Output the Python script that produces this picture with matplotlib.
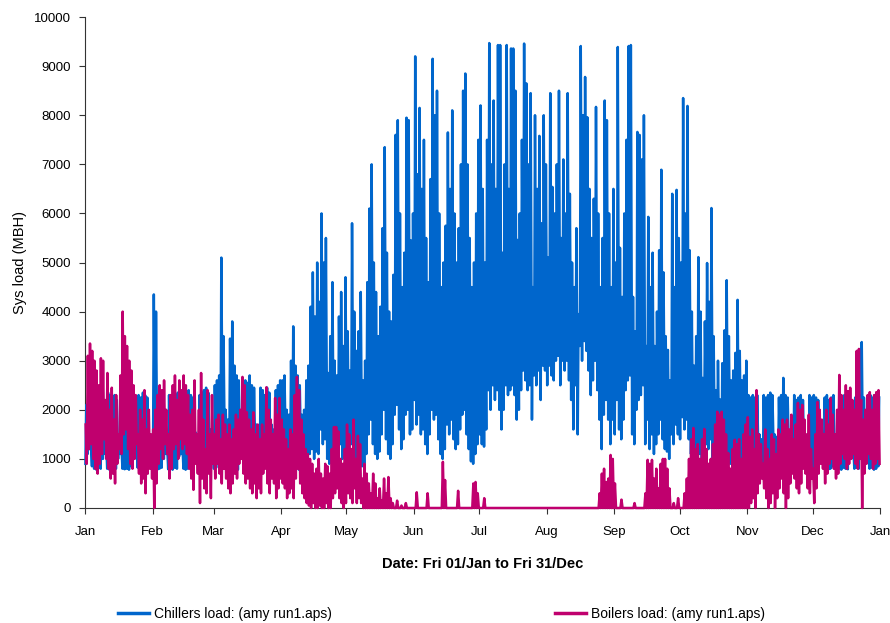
import numpy as np
import matplotlib.pyplot as plt
from matplotlib.lines import Line2D

plt.rcParams['font.family'] = ['Liberation Sans', 'DejaVu Sans']

month_labels = ['Jan', 'Feb', 'Mar', 'Apr', 'May', 'Jun', 'Jul', 'Aug',
                'Sep', 'Oct', 'Nov', 'Dec', 'Jan']
month_days = [31, 28, 31, 30, 31, 30, 31, 31, 30, 31, 30, 31]

# Daily peak / overnight low of the chillers load (MBH), read month by month
chiller_peak = (
    [2100, 1500, 1400, 2300, 2250, 2300, 2200, 2300, 1500, 1450, 2350, 2300, 2250, 2300, 2200, 1500,
     1400, 2300, 2350, 2250, 2300, 2200, 1600, 1500, 2300, 2250, 2350, 2300, 2250, 1500, 1400]
    + [4350, 4000, 2300, 2250, 2350, 1500, 1400, 2300, 2250, 2200, 2300, 2350, 1500, 1450, 2250,
       2300, 2400, 2300, 2250, 1550, 1500, 2300, 2350, 2400, 2450, 2350, 1600, 1500]
    + [2500, 2600, 2700, 5100, 3500, 2000, 1800, 3450, 3800, 2900, 2700, 2600, 1800, 1700, 2600,
       2550, 2700, 2500, 2450, 1700, 1600, 2450, 2400, 2300, 2450, 2350, 1700, 1600, 2400, 2500, 2600]
    + [2600, 2700, 2000, 1900, 3000, 3700, 2900, 2700, 2500, 1900, 2000, 2600, 2900, 4100, 4800,
       3900, 5000, 4200, 6000, 5000, 5500, 2750, 3500, 4600, 3000, 2700, 3900, 4400, 3300, 4700]
    + [3600, 2800, 5800, 4000, 3200, 3600, 4400, 2600, 3000, 4600, 6100, 7000, 5000, 4400, 3500,
       4100, 5700, 7350, 5200, 4000, 3800, 4750, 7600, 7900, 6000, 4500, 5200, 7950, 7900, 5450, 6000]
    + [9200, 6800, 8150, 6500, 7500, 5500, 4600, 6700, 9150, 8000, 8500, 6000, 4500, 5000, 5750,
       7650, 6500, 8100, 6000, 5000, 5700, 7000, 8500, 8850, 7000, 5500, 4500, 5000, 6000, 7500]
    + [8200, 6500, 5000, 7500, 9470, 7000, 8300, 6500, 9430, 9430, 5200, 7000, 9430, 6500, 9360,
       9360, 8500, 5460, 6000, 7500, 9460, 8650, 7000, 8450, 4500, 8000, 6500, 7580, 5800, 8000, 7000]
    + [5100, 8450, 6540, 6000, 7000, 8500, 5500, 7100, 6000, 8450, 6400, 5000, 4500, 5700, 3950,
       9410, 8000, 8780, 7960, 6500, 5500, 6300, 8170, 6000, 4500, 5500, 8300, 7900, 6000, 4500, 6500]
    + [5000, 9390, 5300, 4300, 6000, 7500, 9410, 9430, 4300, 3600, 7660, 7600, 7100, 8000, 3300,
       5930, 4500, 5200, 3300, 4000, 5250, 6890, 4800, 3500, 3220, 2600, 6400, 4500, 6480, 5500]
    + [5000, 8350, 6000, 8190, 5250, 4000, 2900, 3500, 5110, 4000, 2650, 3800, 4990, 4200, 6110,
       3500, 2400, 3000, 2210, 2950, 3620, 4640, 3500, 2600, 2800, 3160, 4240, 3200, 2600, 2700, 3000]
    + [2300, 2250, 2300, 2250, 2300, 1500, 1400, 2300, 2250, 2300, 2350, 2300, 1500, 1450, 2250,
       2300, 2650, 2300, 2250, 1500, 1400, 2300, 2200, 2250, 2300, 2200, 1500, 1450, 2300, 2250]
    + [2300, 2250, 2200, 1500, 1400, 2250, 2300, 2200, 2250, 2300, 1500, 1450, 2200, 2250, 2300,
       2250, 2200, 1500, 1400, 2250, 2300, 2300, 3380, 2250, 1500, 1450, 2300, 2250, 2300, 2200, 2250]
)
chiller_low = (
    [900, 1100, 1200, 850, 800, 780, 820, 800, 1000, 1100, 800, 780, 820, 850, 800, 1000,
     1100, 800, 790, 800, 780, 850, 1050, 1100, 820, 800, 780, 800, 850, 1000, 1100]
    + [800, 850, 780, 800, 820, 1000, 1100, 790, 800, 780, 820, 800, 1050, 1100, 800,
       780, 800, 820, 790, 1000, 1100, 800, 780, 800, 820, 800, 1000, 1100]
    + [800, 820, 900, 1000, 1100, 1000, 1050, 850, 820, 800, 800, 780, 1000, 1100, 820,
       800, 780, 800, 820, 1050, 1100, 800, 790, 800, 820, 780, 1000, 1100, 800, 800, 850]
    + [820, 800, 1050, 1000, 850, 900, 800, 820, 780, 1000, 1050, 850, 900, 1100, 1200,
       1000, 1150, 1100, 1600, 1300, 1400, 1000, 900, 1200, 1000, 850, 1100, 1300, 1000, 1200]
    + [1000, 950, 1300, 1100, 900, 1000, 1200, 850, 900, 1100, 1500, 1800, 1300, 1100, 1000,
       1150, 1500, 2000, 1400, 1100, 1000, 1300, 1900, 2100, 1600, 1200, 1400, 1900, 2000, 1500, 1600]
    + [2200, 1700, 1900, 1500, 1600, 1300, 1100, 1500, 2000, 1800, 1900, 1400, 1100, 1000, 1200,
       1700, 1500, 1800, 1400, 1200, 1300, 1600, 1900, 2000, 1500, 1200, 950, 900, 1100, 1300]
    + [1500, 1300, 1250, 1600, 2400, 2000, 2500, 2200, 2400, 2000, 1600, 2000, 2500, 2300, 2400,
       2500, 2300, 1800, 2000, 2400, 2800, 2600, 2400, 2500, 1800, 2700, 2500, 2800, 2200, 2900, 2800]
    + [2500, 2900, 2700, 2600, 3000, 3100, 2500, 3000, 2800, 3000, 2600, 2200, 1600, 2500, 1500,
       3300, 3000, 3400, 3200, 2800, 2300, 2600, 3000, 2400, 1800, 1200, 1900, 2200, 1800, 1300, 1800]
    + [1500, 2200, 1600, 1400, 1800, 2400, 2600, 2700, 1500, 1300, 2000, 2200, 2300, 2500, 1300,
       1800, 1200, 1500, 1100, 1300, 1500, 1800, 1400, 1200, 1150, 1000, 1500, 1300, 1700, 1500]
    + [1400, 1850, 1600, 1800, 1400, 1100, 1000, 1100, 1300, 1100, 900, 1100, 1300, 1200, 1400,
       1000, 900, 950, 1000, 950, 1100, 1300, 1000, 900, 950, 1000, 1100, 1000, 900, 900, 950]
    + [800, 780, 820, 800, 790, 1000, 1100, 800, 780, 820, 800, 850, 1050, 1100, 800,
       780, 900, 820, 800, 1000, 1100, 800, 790, 800, 820, 800, 1050, 1100, 800, 780]
    + [800, 820, 780, 1000, 1100, 800, 820, 780, 800, 850, 1000, 1100, 800, 780, 820,
       800, 790, 1050, 1100, 800, 820, 800, 1200, 800, 1000, 1100, 800, 820, 780, 800, 850]
)

# Daily peak / low of the boilers load (MBH)
boiler_peak = (
    [1700, 3100, 3350, 3200, 3000, 2800, 2500, 3050, 3000, 2200, 2750, 2000, 2450, 1800, 2300, 1500,
     2700, 4000, 3500, 3300, 3000, 2800, 2500, 2300, 1500, 2000, 1800, 2400, 1600, 2000, 1500]
    + [1600, 2000, 2300, 2500, 2400, 2600, 2000, 1500, 2300, 2500, 2700, 2200, 2600, 2400, 2700,
       2500, 2300, 1900, 2000, 2600, 1500, 2000, 2750, 1800, 1200, 2400, 1500, 2300]
    + [1500, 1800, 1900, 1400, 1900, 1700, 1500, 1700, 1400, 1600, 1900, 1800, 2000, 2670, 2500,
       1950, 1800, 1600, 1950, 1500, 1700, 1400, 1700, 1500, 2460, 2000, 1800, 1500, 2240, 1900, 2240]
    + [1800, 1600, 1400, 1200, 1600, 1500, 2300, 2670, 2400, 1800, 1500, 1200, 1100, 1000, 900,
       700, 800, 1000, 700, 600, 900, 850, 700, 1200, 1650, 1650, 1560, 1000, 900, 1200]
    + [1700, 1500, 1200, 1800, 1000, 1470, 1300, 600, 900, 700, 500, 300, 700, 500, 200,
       400, 150, 600, 300, 630, 200, 100, 0, 150, 0, 50, 0, 100, 0, 0, 0]
    + [0, 320, 0, 0, 0, 0, 300, 0, 0, 0, 0, 0, 0, 940, 570,
       0, 0, 0, 0, 0, 350, 0, 0, 0, 0, 0, 0, 500, 530, 300]
    + [0, 0, 200, 0, 0, 0, 0, 0, 0, 0, 0, 0, 0, 0, 0,
       0, 0, 0, 0, 0, 0, 0, 0, 0, 0, 0, 0, 0, 0, 0, 0]
    + [0, 0, 0, 0, 0, 0, 0, 0, 0, 0, 0, 0, 0, 0, 0,
       0, 0, 0, 0, 0, 0, 0, 0, 0, 300, 700, 800, 530, 600, 1080, 1000]
    + [500, 0, 0, 170, 0, 0, 0, 0, 0, 100, 0, 0, 0, 0, 300,
       980, 900, 980, 600, 800, 400, 900, 1000, 1000, 800, 400, 0, 100, 0, 200]
    + [0, 0, 300, 600, 1000, 1400, 1630, 1200, 1300, 1000, 1400, 1610, 1200, 900, 1000,
       1300, 1700, 1960, 1900, 1960, 1800, 1500, 1120, 800, 1200, 1390, 1300, 1400, 1000, 1500, 1700]
    + [1850, 1450, 1600, 1200, 2400, 1500, 1300, 900, 1600, 1200, 1000, 1500, 1400, 1100, 1600,
       1500, 1800, 1700, 1800, 1600, 1900, 1400, 1700, 2140, 2000, 2100, 1800, 1500, 1900, 1200]
    + [800, 1500, 2160, 2000, 1800, 1500, 2000, 1700, 2240, 1900, 1500, 2000, 2710, 2300, 2000,
       2500, 2380, 2450, 2200, 2000, 3200, 3240, 2200, 1800, 2000, 2300, 2360, 2000, 2300, 2360, 2400]
)
boiler_low = (
    [900, 1200, 1300, 1000, 800, 700, 900, 1100, 1400, 1000, 800, 600, 700, 500, 900, 1200,
     1100, 1500, 1600, 1200, 900, 800, 1000, 1300, 700, 500, 600, 300, 700, 800, 600]
    + [0, 500, 900, 1200, 1000, 1300, 1100, 600, 800, 1200, 1300, 1000, 1400, 1200, 1300,
       1100, 800, 600, 370, 900, 700, 100, 600, 400, 300, 700, 200, 900]
    + [600, 900, 700, 500, 800, 600, 400, 300, 500, 700, 600, 900, 1000, 700, 500,
       600, 400, 300, 500, 200, 400, 300, 700, 800, 500, 300, 600, 500, 200, 400, 600]
    + [500, 400, 200, 300, 400, 200, 600, 800, 500, 300, 200, 100, 50, 0, 100,
       0, 0, 50, 0, 0, 100, 0, 0, 200, 300, 400, 200, 100, 0, 100]
    + [300, 200, 100, 400, 100, 200, 100, 0, 0, 0, 0, 0, 0, 0, 0,
       0, 0, 0, 0, 0, 0, 0, 0, 0, 0, 0, 0, 0, 0, 0, 0]
    + [0] * 30 + [0] * 31 + [0] * 31 + [0] * 30 + [0] * 31
    + [0, 100, 200, 0, 300, 500, 600, 400, 200, 0, 100, 300, 0, 200, 400,
       600, 300, 0, 200, 500, 700, 600, 400, 300, 500, 800, 700, 400, 300, 600]
    + [100, 400, 700, 900, 800, 500, 700, 900, 1000, 800, 600, 700, 900, 1100, 1000,
       800, 900, 1000, 1100, 900, 800, 1000, 0, 700, 900, 1100, 1000, 800, 900, 1000, 900]
)

n_days = sum(month_days)
for s in (chiller_peak, chiller_low, boiler_peak, boiler_low):
    assert len(s) == n_days, len(s)

day = np.arange(n_days)
month_start = np.concatenate([[0], np.cumsum(month_days)])

# chillers: night low then afternoon peak; boilers: morning peak then low
t_ch = np.column_stack([day + 0.2, day + 0.6]).ravel()
v_ch = np.column_stack([chiller_low, chiller_peak]).ravel()
t_bo = np.column_stack([day + 0.3, day + 0.8]).ravel()
v_bo = np.column_stack([boiler_peak, boiler_low]).ravel()

blue = '#0066CC'
magenta = '#C0006E'

fig = plt.figure(figsize=(8.9, 6.23), dpi=100)
ax = fig.add_axes([0.0955, 0.1846, 0.8933, 0.788])

ax.plot(t_ch, v_ch, color=blue, lw=1.8, clip_on=False, zorder=3)
ax.plot(t_bo, v_bo, color=magenta, lw=1.8, clip_on=False, zorder=3)

ax.set_xlim(0, n_days)
ax.set_ylim(0, 10000)
ax.set_xticks(month_start)
ax.set_xticklabels(month_labels)
ax.set_yticks(np.arange(0, 10001, 1000))

for side in ('top', 'right'):
    ax.spines[side].set_visible(False)
for side in ('left', 'bottom'):
    ax.spines[side].set_color('#333333')
ax.tick_params(axis='both', labelsize=9.5, length=4, color='#333333')
ax.tick_params(axis='x', pad=9)
ax.tick_params(axis='y', pad=6)

ax.set_ylabel('Sys load (MBH)', fontsize=10.5, labelpad=5)
ax.set_xlabel('Date: Fri 01/Jan to Fri 31/Dec', fontsize=10.5, fontweight='bold', labelpad=14)

h_ch = Line2D([], [], color=blue, lw=2.5)
h_bo = Line2D([], [], color=magenta, lw=2.5)
for h, label, x0 in ((h_ch, 'Chillers load: (amy run1.aps)', 118 / 890),
                     (h_bo, 'Boilers load: (amy run1.aps)', 555 / 890)):
    fig.legend(handles=[h], labels=[label], loc='center left', bbox_to_anchor=(x0, 0.015),
               frameon=False, fontsize=10, handlelength=2.2, handletextpad=0.4,
               borderpad=0, borderaxespad=0)

plt.savefig('out.png', dpi=100)
